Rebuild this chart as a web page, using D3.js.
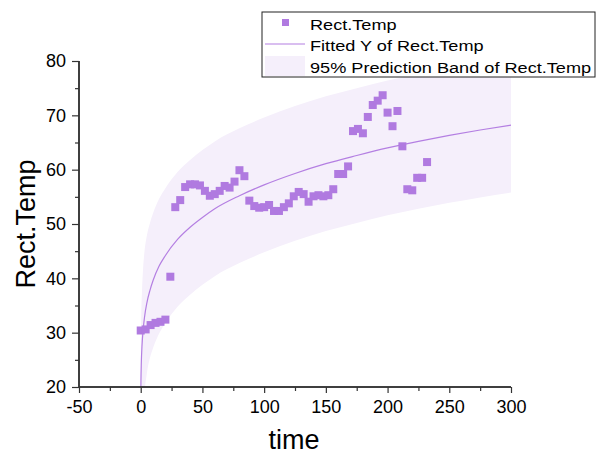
<!DOCTYPE html>
<html>
<head>
<meta charset="utf-8">
<script src="https://cdnjs.cloudflare.com/ajax/libs/d3/7.8.5/d3.min.js"></script>
<style>
  body { margin: 0; background: #fff; }
  text { font-family: "Liberation Sans", Arial, sans-serif; fill: #000; }
</style>
</head>
<body>
<script>
// measured points (time step 4)
const time = [0,4,8,12,16,20,24,28,32,36,40,44,48,52,56,60,64,68,72,76,80,84,88,92,96,100,
  104,108,112,116,120,124,128,132,136,140,144,148,152,156,160,164,168,172,176,180,184,188,
  192,196,200,204,208,212,216,220,224,228,232];
const rectTemp = [30.4,30.6,31.4,31.8,32.0,32.4,40.3,53.1,54.4,56.8,57.3,57.3,57.1,56.1,55.2,55.5,
  56.1,57.0,56.7,57.8,59.9,58.8,54.3,53.3,53.0,53.1,53.5,52.4,52.4,53.1,53.8,55.1,55.9,55.5,
  54.1,55.1,55.3,55.1,55.3,56.4,59.2,59.2,60.6,67.1,67.5,66.7,69.7,71.9,72.7,73.7,70.5,68.0,
  70.8,64.3,56.4,56.2,58.5,58.5,61.4];

// fitted curve
const fitX = [0.14,0.2,0.5,1,2,3,5,7.5,10,15,20,30,40,50,60,80,100,125,150,175,200,225,250,275,300];
const fitY = [20,21.2,24.5,27.4,30.6,32.7,35.5,37.8,39.6,42.3,44.2,47.2,49.4,51.2,52.8,55.2,57.2,
  59.3,61.1,62.6,64.0,65.2,66.3,67.3,68.2];

// 95% prediction band
const bandX = [0.02,0.2,0.5,1,2,3,5,7.5,10,15,20,30,40,50,60,80,100,125,150,175,200,225,250,275,300];
const bandLow = [-10,-8,-4,0,12,18,22.5,25.4,27.2,29.9,31.8,34.8,37.0,38.8,40.4,42.8,44.8,46.9,
  48.7,50.2,51.6,52.8,53.9,54.9,55.8];
const bandHigh = [20,30,34,37.5,42,44.8,47.9,50.2,52.0,54.7,56.6,59.6,61.8,63.6,65.2,67.6,69.6,
  71.7,73.5,75.0,76.4,77.6,78.7,79.7,80.6];

const xTicks = [-50,0,50,100,150,200,250,300];
const yTicks = [20,30,40,50,60,70,80];
const legendLabels = ["Rect.Temp", "Fitted Y of Rect.Temp", "95% Prediction Band of Rect.Temp"];

const width = 598, height = 456;
const margin = {left: 79, right: 87, top: 61, bottom: 69};

const purple = "#b07ae0";
const lineCol = "#b47fe2";
const bandCol = "#f5effb";

const svg = d3.select("body").append("svg")
  .attr("width", width).attr("height", height);

const x = d3.scaleLinear().domain([-50, 300]).range([margin.left, width - margin.right]);
const y = d3.scaleLinear().domain([20, 80]).range([height - margin.bottom, margin.top]);

svg.append("clipPath").attr("id", "plot")
  .append("rect")
  .attr("x", margin.left).attr("y", margin.top)
  .attr("width", x(300) - x(-50)).attr("height", y(20) - y(80));

const g = svg.append("g").attr("clip-path", "url(#plot)");

const band = bandX.map((d, i) => ({x: d, lo: bandLow[i], hi: bandHigh[i]}));
g.append("path")
  .datum(band)
  .attr("fill", bandCol)
  .attr("d", d3.area().x(d => x(d.x)).y0(d => y(d.lo)).y1(d => y(d.hi)).curve(d3.curveMonotoneX));

g.append("path")
  .datum(fitX.map((d, i) => [d, fitY[i]]))
  .attr("fill", "none")
  .attr("stroke", lineCol)
  .attr("stroke-width", 1.2)
  .attr("d", d3.line().x(d => x(d[0])).y(d => y(d[1])).curve(d3.curveMonotoneX));

const sz = 8;
g.selectAll("rect.pt")
  .data(time.map((t, i) => [t, rectTemp[i]]))
  .join("rect")
  .attr("class", "pt")
  .attr("x", d => x(d[0]) - sz / 2)
  .attr("y", d => y(d[1]) - sz / 2)
  .attr("width", sz).attr("height", sz)
  .attr("fill", purple);

// axes
const xAxis = svg.append("g")
  .attr("transform", `translate(0,${y(20)})`)
  .call(d3.axisBottom(x).tickValues(xTicks).tickSize(6).tickPadding(7).tickFormat(d => String(d)));
xAxis.append("g").call(d3.axisBottom(x).tickValues(d3.range(-25, 300, 50)).tickSize(4).tickFormat(""));

const yAxis = svg.append("g")
  .attr("transform", `translate(${x(-50)},0)`)
  .call(d3.axisLeft(y).tickValues(yTicks).tickSize(7).tickPadding(6));
yAxis.append("g").call(d3.axisLeft(y).tickValues(d3.range(25, 80, 10)).tickSize(4).tickFormat(""));

svg.selectAll(".domain").attr("stroke", "#333").attr("stroke-width", 1.5);
svg.selectAll(".tick line").attr("stroke", "#333").attr("stroke-width", 1.2);
svg.selectAll(".tick text").style("font-size", "18px").attr("fill", "#000");
yAxis.selectAll(".domain").attr("d", `M0,${y(20)}V${y(80)}`);
xAxis.selectAll(".domain").attr("d", `M${x(-50)},0H${x(300)}`);

svg.append("text")
  .attr("x", 294).attr("y", 449)
  .attr("text-anchor", "middle")
  .style("font-size", "27px")
  .text("time");

svg.append("text")
  .attr("transform", `translate(34.5,${(y(20) + y(80)) / 2}) rotate(-90)`)
  .attr("text-anchor", "middle")
  .style("font-size", "27px")
  .text("Rect.Temp");

// legend
const leg = svg.append("g").attr("transform", "translate(262,12)");
leg.append("rect")
  .attr("width", 333).attr("height", 65)
  .attr("fill", "#fff").attr("stroke", "#222").attr("stroke-width", 1);
leg.append("rect").attr("x", 20).attr("y", 7).attr("width", 7).attr("height", 7).attr("fill", purple);
leg.append("line").attr("x1", 3).attr("x2", 43).attr("y1", 32).attr("y2", 32)
  .attr("stroke", lineCol).attr("stroke-width", 1.2);
leg.append("rect").attr("x", 3).attr("y", 44).attr("width", 40).attr("height", 20).attr("fill", bandCol);
leg.selectAll("text.lg")
  .data(legendLabels)
  .join("text")
  .attr("class", "lg")
  .attr("transform", (d, i) => `translate(48,${17.5 + i * 21.5}) scale(1.17,1)`)
  .style("font-size", "15.5px")
  .text(d => d);
</script>
</body>
</html>
